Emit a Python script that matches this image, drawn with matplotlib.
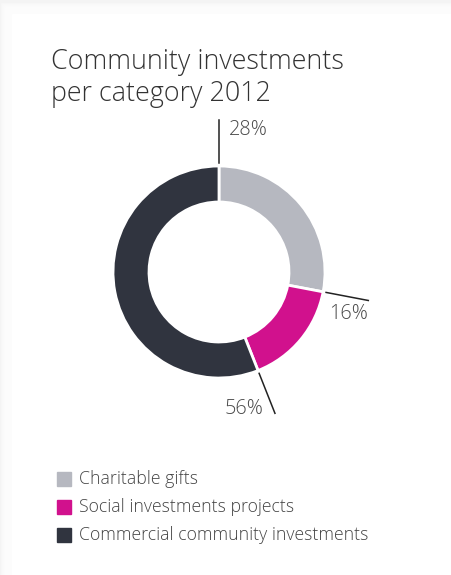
import numpy as np
import matplotlib
matplotlib.use("Agg")
import matplotlib.pyplot as plt
from matplotlib.patches import Rectangle

categories = ["Charitable gifts", "Social investments projects", "Commercial community investments"]
shares = [28, 16, 56]
labels = ["28%", "16%", "56%"]
colors = ["#b6b8c0", "#d1118d", "#30343f"]

W, H = 451, 575
fig = plt.figure(figsize=(W / 100, H / 100), dpi=100)
fig.patch.set_facecolor("#f4f4f4")

# card with soft shadow on left/top
for i in range(12):
    fig.patches.append(Rectangle(((12 - i) / W, 0), 1, (H - 14 + i) / H,
                                 transform=fig.transFigure, color="white", alpha=0.25, zorder=-3))
fig.patches.append(Rectangle((12 / W, 0), 1, (H - 14) / H, transform=fig.transFigure,
                             color="white", zorder=-2))

ax = fig.add_axes([0, 0, 1, 1])
ax.set_facecolor("none")
ax.set_zorder(1)

cx, cy, R = 219, H - 272, 106
ax.pie(shares, colors=colors, startangle=90, counterclock=False, radius=R, center=(cx, cy),
       wedgeprops=dict(width=36, edgecolor="white", linewidth=2))
ax.set_xlim(0, W)
ax.set_ylim(0, H)
ax.set_aspect("equal")
ax.axis("off")

# leader lines at the start of each segment
bounds = np.concatenate([[0], np.cumsum(shares)[:-1]]) / sum(shares) * 360
offsets = [(10, -10, "left"), (0, -14, "right"), (-12, 4, "right")]
for ang, lab, (dx, dy, ha) in zip(bounds, labels, offsets):
    t = np.deg2rad(90 - ang)
    r0, r1 = R + 3, R + 46
    x0, y0 = cx + r0 * np.cos(t), cy + r0 * np.sin(t)
    x1, y1 = cx + r1 * np.cos(t), cy + r1 * np.sin(t)
    ax.plot([x0, x1], [y0, y1], color="#222222", lw=1.1)
    ax.text(x1 + dx, y1 + dy, lab, ha=ha, va="center", fontsize=14.3, color="#4a4a4a",
            family="Open Sans", fontweight="light")

ax.text(51, H - 48, "Community investments\nper category 2012", fontsize=19.4,
        color="#333333", family="Open Sans", fontweight="light", va="top", ha="left",
        linespacing=1.17)

for i, (cat, col) in enumerate(zip(categories, colors)):
    y = H - (478.7 + 28 * i)
    ax.add_patch(Rectangle((57, y - 7), 14, 14, color=col))
    ax.text(79, y, cat, fontsize=12.7, color="#444444", family="Open Sans", fontweight="light",
            va="center", ha="left")

fig.savefig("out.png", dpi=100, facecolor=fig.get_facecolor())
